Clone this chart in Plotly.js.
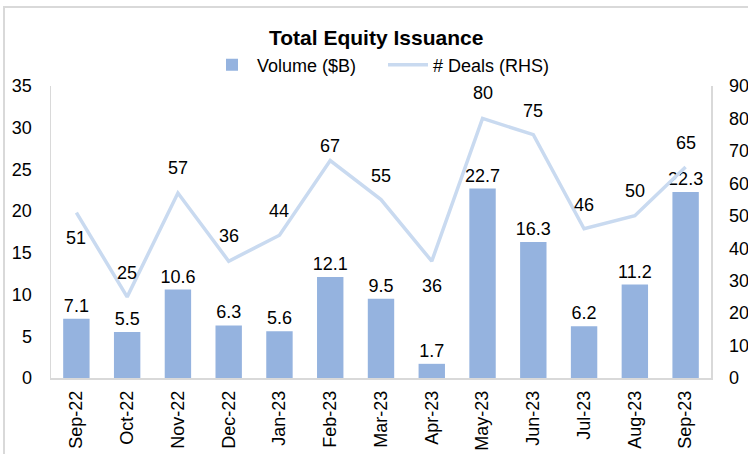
<!DOCTYPE html>
<html>
<head>
<meta charset="utf-8">
<script src="https://cdn.plot.ly/plotly-3.0.1.min.js"></script>
<style>
html,body{margin:0;padding:0;background:#fff;}
#chart{width:748px;height:454px;}
</style>
</head>
<body>
<div id="chart"></div>
<script>
// ---- data ----
const months = ["Sep-22","Oct-22","Nov-22","Dec-22","Jan-23","Feb-23","Mar-23","Apr-23","May-23","Jun-23","Jul-23","Aug-23","Sep-23"];
const volume = [7.1, 5.5, 10.6, 6.3, 5.6, 12.1, 9.5, 1.7, 22.7, 16.3, 6.2, 11.2, 22.3];
const deals  = [51, 25, 57, 36, 44, 67, 55, 36, 80, 75, 46, 50, 65];
const leftTicks = [0, 5, 10, 15, 20, 25, 30, 35];
const rightTicks = [0, 10, 20, 30, 40, 50, 60, 70, 80, 90];

// ---- styling ----
const FONT = "Liberation Sans, Arial, sans-serif";
const barColor = "#95b3df";
const lineColor = "#c9daf0";
const axisColor = "#d9d9d9";
const dealLabelShift = [-25, 24, 25, 25, 24, 15, 24, -25, 25, 24, 24, 25, 24];

const W = 748, H = 454;
const margin = {l: 51, r: 37, t: 86, b: 76, pad: 0};
const pw = W - margin.l - margin.r, ph = H - margin.t - margin.b;
const px = v => (v - margin.l) / pw;
const py = v => (H - margin.b - v) / ph;

const traces = [
  {
    type: "bar", name: "Volume ($B)", x: months, y: volume,
    marker: {color: barColor},
    text: volume.map(v => v.toFixed(1)), textposition: "outside", constraintext: "none",
    textfont: {family: FONT, size: 18, color: "#000"},
    cliponaxis: false, yaxis: "y", hoverinfo: "skip"
  },
  {
    type: "scatter", mode: "lines", name: "# Deals (RHS)", x: months, y: deals,
    line: {color: lineColor, width: 3.5}, yaxis: "y2", hoverinfo: "skip"
  }
];

const annotations = months.map((m, i) => ({
  x: m, y: deals[i], xref: "x", yref: "y2", text: String(deals[i]),
  showarrow: false, yshift: dealLabelShift[i],
  font: {family: FONT, size: 18, color: "#000"}
}));
annotations.push({
  text: "<b>Total Equity Issuance</b>", xref: "paper", yref: "paper",
  x: px(376), y: py(37), showarrow: false, xanchor: "center", yanchor: "middle",
  font: {family: FONT, size: 21, color: "#000"}
});

const layout = {
  width: W, height: H, margin: margin,
  paper_bgcolor: "#fff", plot_bgcolor: "#fff",
  font: {family: FONT, size: 18, color: "#000"},
  showlegend: true,
  legend: {
    orientation: "h", x: px(383), xanchor: "center", y: py(65), yanchor: "middle",
    font: {family: FONT, size: 18, color: "#000"}, itemwidth: 40, entrywidth: 121,
    traceorder: "normal", bgcolor: "rgba(0,0,0,0)"
  },
  bargap: 0.48,
  xaxis: {
    type: "category", tickangle: -90, showline: true, linecolor: axisColor, linewidth: 1.5,
    showgrid: false, ticks: "", ticklabelstandoff: 4,
    tickfont: {family: FONT, size: 18, color: "#000"}, fixedrange: true
  },
  yaxis: {
    range: [0, 35], tickvals: leftTicks, showline: true, linecolor: axisColor, linewidth: 1.5,
    showgrid: false, zeroline: false, ticks: "", ticklabelstandoff: 14,
    tickfont: {family: FONT, size: 18, color: "#000"}, fixedrange: true
  },
  yaxis2: {
    range: [0, 90], tickvals: rightTicks, overlaying: "y", side: "right",
    showline: true, linecolor: axisColor, linewidth: 1.5,
    showgrid: false, zeroline: false, ticks: "", ticklabelstandoff: 13,
    tickfont: {family: FONT, size: 18, color: "#000"}, fixedrange: true
  },
  annotations: annotations,
  shapes: [{
    type: "rect", xref: "paper", yref: "paper", layer: "below",
    x0: px(4), x1: px(760), y0: py(470), y1: py(7),
    line: {color: "#d9d9d9", width: 2}, fillcolor: "rgba(0,0,0,0)"
  }]
};

Plotly.newPlot("chart", traces, layout, {displayModeBar: false, staticPlot: true});
</script>
</body>
</html>
